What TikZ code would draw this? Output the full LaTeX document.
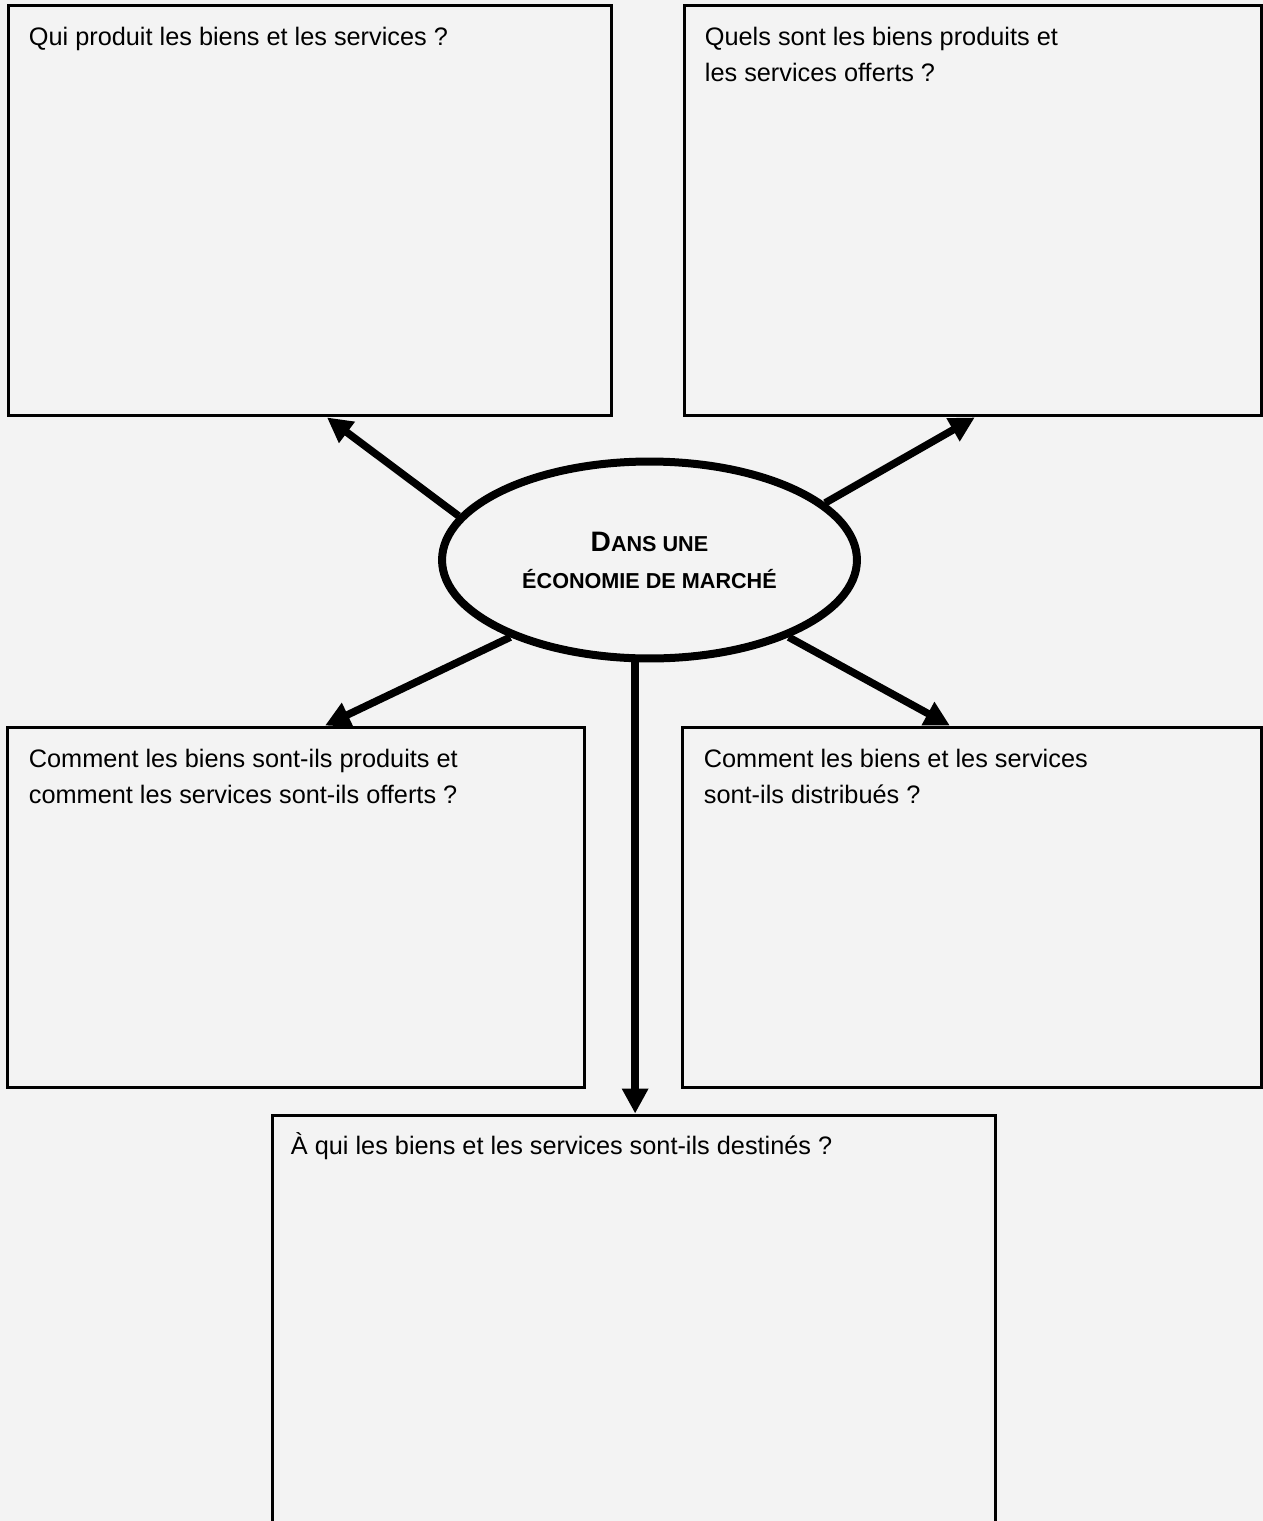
\documentclass[tikz,border=0pt]{standalone}
\usepackage{fontspec}
\setmainfont{Liberation Sans}
\usepackage{tikz}
\usetikzlibrary{calc,shapes,arrows.meta}
\definecolor{paper}{RGB}{243,243,243}

\begin{document}
\begin{tikzpicture}[
    x=0.02cm, y=-0.02cm,
    question box/.style={draw, line width=0.06cm, inner sep=0pt},
    question text/.style={anchor=north west, align=left, inner sep=0pt,
    font=\fontsize{14.4}{20.5}\selectfont},
    centre/.style={draw, ellipse, line width=0.16cm, inner sep=0pt,
    minimum width=8.3cm, minimum height=3.94cm, align=center,
    font=\bfseries\fontsize{12.3}{21}\selectfont},
    pile/.style={line width=0.15cm, -{Triangle[length=0.5cm,width=0.5cm]}},
    every node/.style={color=black}
    ]
    % Page
    \path[use as bounding box, fill=paper] (0,0) rectangle (1263,1521);
    % Boxes
    \node[question box, minimum width=12.08cm, minimum height=8.22cm] (tl) at (310,210.5) {};
    \node[question box, minimum width=11.56cm, minimum height=8.22cm] (tr) at (973,210.5) {};
    \node[question box, minimum width=11.56cm, minimum height=7.22cm] (ml) at (296,907.5) {};
    \node[question box, minimum width=11.6cm, minimum height=7.22cm] (mr) at (972,907.5) {};
    \node[question box, minimum width=14.48cm, minimum height=8.5cm] (bot) at (634,1327.5) {};
    % Questions
    \node[question text] (tlq) at ([xshift=0.44cm, yshift=-0.47cm]tl.north west)
        {Qui produit les biens et les services ?};
    \node[question text] (trq) at ([xshift=0.44cm, yshift=-0.47cm]tr.north west)
        {Quels sont les biens produits et\\les services offerts ?};
    \node[question text] (mlq) at ([xshift=0.46cm, yshift=-0.47cm]ml.north west)
        {Comment les biens sont-ils produits et\\comment les services sont-ils offerts ?};
    \node[question text] (mrq) at ([xshift=0.46cm, yshift=-0.47cm]mr.north west)
        {Comment les biens et les services\\sont-ils distribués ?};
    \node[question text] (botq) at ([xshift=0.4cm, yshift=-0.38cm]bot.north west)
        {À qui les biens et les services sont-ils destinés ?};
    % Centre
    \node[centre] (ell) at (649.5,560)
        {{\fontsize{16}{21}\selectfont D}ANS UNE\\ÉCONOMIE DE MARCHÉ};
    % Arrows
    \draw[pile] (ell.167) -- ($(tl.south west)!0.528!(tl.south east)$);
    \draw[pile] (ell.18) -- ($(tr.south west)!0.503!(tr.south east)$);
    \draw[pile] (ell.209) -- ($(ml.north west)!0.55!(ml.north east)$);
    \draw[pile] (ell.331) -- ($(mr.north west)!0.462!(mr.north east)$);
    \draw[pile] (ell.262) -- (ell.262 |- bot.north);
\end{tikzpicture}
\end{document}
